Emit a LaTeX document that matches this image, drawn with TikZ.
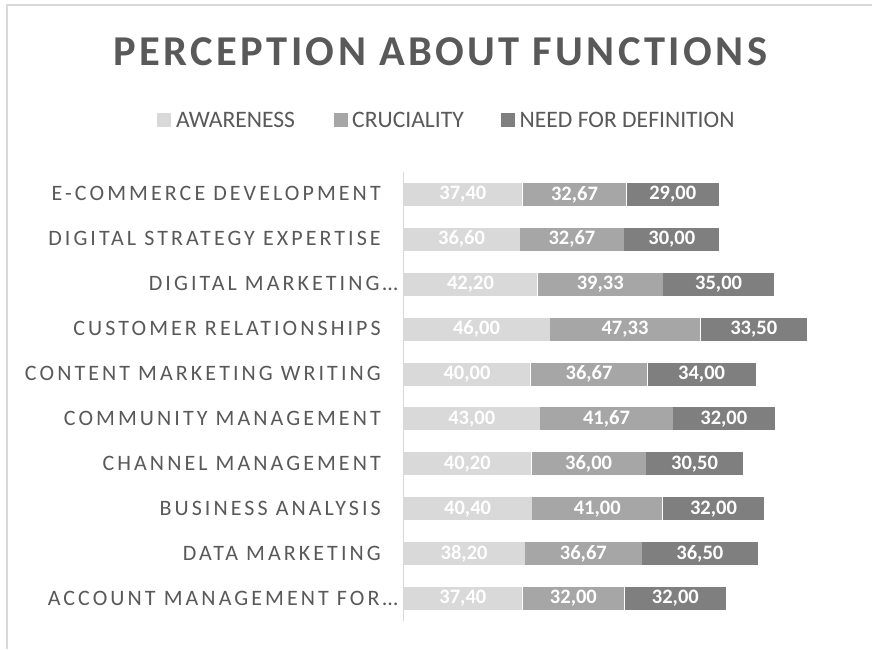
\documentclass[tikz,border=0pt]{standalone}
\usepackage{fontspec}
\setmainfont{Carlito}
\newfontfamily\titlefont[LetterSpace=8]{Carlito}
\newfontfamily\catfont[LetterSpace=14]{Carlito}
\definecolor{framec}{HTML}{D9D9D9}
\definecolor{axisc}{HTML}{D9D9D9}
\definecolor{txtc}{HTML}{595959}
\definecolor{cA}{HTML}{D9D9D9}
\definecolor{cB}{HTML}{A6A6A6}
\definecolor{cC}{HTML}{7F7F7F}
\tikzset{
  seg/.style={inner sep=0pt, minimum height=23pt, text=white, anchor=west,
    font=\fontsize{20.5}{24}\selectfont\bfseries},
  catlabel/.style={inner sep=0pt, text=txtc, anchor=base east,
    font=\catfont\fontsize{22}{25}\selectfont},
  legsq/.style={inner sep=0pt, minimum width=14pt, minimum height=14pt, anchor=north west},
  legtxt/.style={inner sep=0pt, text=txtc, anchor=base west,
    font=\fontsize{23.6}{28}\selectfont},
}
\pgfkeys{/pgf/number format/.cd, fixed, precision=2, fixed zerofill, use comma, assume math mode=true}
\begin{document}
\begin{tikzpicture}[x=1pt,y=-1pt]
\useasboundingbox (0,0) rectangle (872,649);
\fill[white] (0,0) rectangle (872,649);
\draw[framec, line width=1.3pt] (7,649) -- (7,5) -- (872,5);
% title
\node[inner sep=0pt, anchor=base, text=txtc, font=\titlefont\fontsize{42.5}{50}\selectfont\bfseries] (title) at (440.5,65.7) {PERCEPTION ABOUT FUNCTIONS};
% legend
\node[legsq, fill=cA] (sqA) at (157,113) {};
\node[legtxt] (tA) at (176,127) {AWARENESS};
\node[legsq, fill=cB] (sqB) at (334,113) {};
\node[legtxt] (tB) at (352,127) {CRUCIALITY};
\node[legsq, fill=cC] (sqC) at (501,113) {};
\node[legtxt] (tC) at (519.5,127) {NEED FOR DEFINITION};
% axis
\coordinate (axtop) at (403.3,172);
\coordinate (axbot) at (403.3,621);
\draw[axisc, line width=1.3pt] (axtop) -- (axbot);
% bars
\foreach \i/\lab/\tr/\a/\b/\c in {
  0/E-COMMERCE DEVELOPMENT/0/37.40/32.67/29.00,
  1/DIGITAL STRATEGY EXPERTISE/0/36.60/32.67/30.00,
  2/DIGITAL MARKETING…/1/42.20/39.33/35.00,
  3/CUSTOMER RELATIONSHIPS/0/46.00/47.33/33.50,
  4/CONTENT MARKETING WRITING/0/40.00/36.67/34.00,
  5/COMMUNITY MANAGEMENT/0/43.00/41.67/32.00,
  6/CHANNEL MANAGEMENT/0/40.20/36.00/30.50,
  7/BUSINESS ANALYSIS/0/40.40/41.00/32.00,
  8/DATA MARKETING/0/38.20/36.67/36.50,
  9/ACCOUNT MANAGEMENT FOR…/1/37.40/32.00/32.00}{
  \pgfmathsetmacro{\yc}{194.45+44.9*\i}
  \pgfmathsetmacro{\wa}{\a*3.174}
  \pgfmathsetmacro{\wb}{\b*3.174}
  \pgfmathsetmacro{\wc}{\c*3.174}
  \pgfmathsetmacro{\xl}{ifthenelse(\tr==1,398,381)}
  \node[seg, fill=cA, minimum width=\wa pt] (a\i) at (403.3,\yc) {\pgfmathprintnumber{\a}};
  \node[seg, fill=cB, minimum width=\wb pt] (b\i) at (a\i.east) {\pgfmathprintnumber{\b}};
  \node[seg, fill=cC, minimum width=\wc pt] (c\i) at (b\i.east) {\pgfmathprintnumber{\c}};
  \node[catlabel] (l\i) at (\xl,\yc+6.5) {\lab};
}
\end{tikzpicture}
\end{document}
